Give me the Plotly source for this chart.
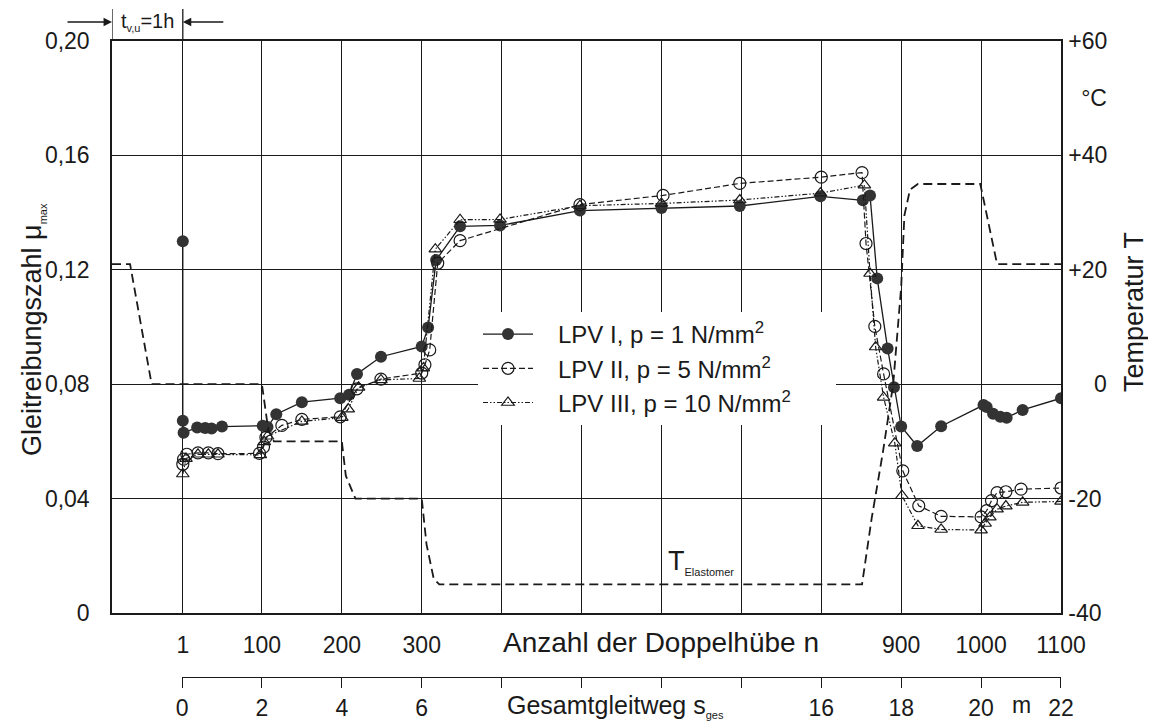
import plotly.graph_objects as go

# Anzahl der Doppelhuebe n (Vorlauf t_v,u = 1h liegt links von n = 1)
n_lpv1 = [1, 1, 2, 19, 29, 37, 50, 101, 107, 118, 150, 198, 209, 219, 249, 300, 308, 318, 348, 398,
          498, 600, 698, 799, 852, 861, 870, 883, 891, 900, 920, 950, 1003, 1007, 1015, 1024, 1032, 1052, 1100]
mu_lpv1 = [0.130, 0.0672, 0.063, 0.0649, 0.0647, 0.0645, 0.0652, 0.0655, 0.065, 0.0695, 0.0737, 0.0751,
           0.0763, 0.0836, 0.0896, 0.0932, 0.0998, 0.1234, 0.1352, 0.1355, 0.1407, 0.1416, 0.1423, 0.1457,
           0.1443, 0.146, 0.117, 0.0925, 0.0789, 0.0652, 0.0584, 0.0653, 0.0727, 0.072, 0.0697, 0.0686,
           0.0683, 0.071, 0.0751]

n_lpv2 = [1, 2, 6, 20, 33, 45, 97, 102, 105, 125, 150, 198, 219, 249, 300, 304, 310, 320, 348, 498,
          602, 698, 800, 851, 856, 867, 878, 902, 922, 950, 1000, 1007, 1013, 1020, 1031, 1050, 1100]
mu_lpv2 = [0.052, 0.0538, 0.0555, 0.056, 0.056, 0.0557, 0.0558, 0.058, 0.0614, 0.0656, 0.0677, 0.0686,
           0.0784, 0.0818, 0.0839, 0.0868, 0.092, 0.1223, 0.1302, 0.1428, 0.146, 0.1502, 0.1524, 0.154,
           0.1292, 0.1002, 0.0836, 0.0497, 0.0375, 0.0338, 0.0336, 0.0358, 0.0393, 0.0421, 0.0424,
           0.0433, 0.0437]

n_lpv3 = [1, 5, 20, 33, 45, 98, 103, 107, 150, 200, 208, 221, 249, 297, 302, 317, 348, 398, 498, 600,
          698, 799, 854, 861, 868, 878, 892, 901, 921, 950, 1000, 1005, 1011, 1020, 1031, 1052, 1100]
mu_lpv3 = [0.0486, 0.054, 0.0555, 0.0555, 0.0555, 0.0553, 0.0598, 0.0618, 0.067, 0.0683, 0.0713, 0.0789,
           0.0815, 0.082, 0.0856, 0.1272, 0.1375, 0.1376, 0.1424, 0.1432, 0.1444, 0.1468, 0.1496, 0.1187,
           0.093, 0.0754, 0.0594, 0.041, 0.0305, 0.0292, 0.029, 0.0313, 0.0335, 0.0363, 0.0374, 0.0387,
           0.039]

# Elastomertemperatur in Grad C
n_temp = [-87.6, -65, -38, 100, 108, 115, 200, 205, 217, 300, 306, 315, 322, 330, 851, 863, 877,
          890, 900, 904, 911, 921, 999, 1014, 1020, 1100]
t_temp = [21, 21, 0, 0, -8, -10, -10, -16, -20, -20, -28, -34, -35, -35, -35, -23.5, -12, 0, 17,
          29.5, 34, 35, 35, 25, 21, 21]

n_ticks = [1, 100, 200, 300, 900, 1000, 1100]
n_labels = ['1', '100', '200', '300', '900', '1000', '1100']
s_ticks = [0, 2, 4, 6, 16, 18, 20, 22]
s_labels = ['0', '2', '4', '6', '16', '18', '20', '22']
mu_ticks = [0, 0.04, 0.08, 0.12, 0.16, 0.20]
mu_labels = ['0', '0,04', '0,08', '0,12', '0,16', '0,20']
t_ticks = [-40, -20, 0, 20, 40, 50, 60]
t_labels = ['-40', '-20', '\u2007\u20070', '+20', '+40', '\u2007°C', '+60']

INK = '#1a1a1a'
FONT = 'Liberation Sans, Arial, sans-serif'
NB = '\u00a0'

# die Seite hat 8px Rand: Figur 1140x717, Papier im Bild von 41 bis 705
def py(px):
    return (705 - px) / 664

def pxx(px):
    return (px - 112) / 949

fig = go.Figure()

fig.add_trace(go.Scatter(x=n_temp, y=t_temp, yaxis='y2', mode='lines',
                         line=dict(color=INK, width=1.8, dash='9px,5px'),
                         showlegend=False, hoverinfo='skip'))

fig.add_trace(go.Scatter(x=n_lpv1, y=mu_lpv1, mode='lines+markers',
                         name=NB * 3 + 'LPV I, p = 1 N/mm<sup>2</sup>',
                         line=dict(color=INK, width=1.3),
                         marker=dict(symbol='circle', size=12, color='#333333')))
fig.add_trace(go.Scatter(x=n_lpv2, y=mu_lpv2, mode='lines+markers',
                         name=NB * 3 + 'LPV II, p = 5 N/mm<sup>2</sup>',
                         line=dict(color=INK, width=1.2, dash='6px,3px'),
                         marker=dict(symbol='circle-open', size=12, color=INK, line=dict(width=1.2))))
fig.add_trace(go.Scatter(x=n_lpv3, y=mu_lpv3, mode='lines+markers',
                         name=NB * 3 + 'LPV III, p = 10 N/mm<sup>2</sup>' + NB * 6,
                         line=dict(color=INK, width=1.2, dash='5px,2px,1.5px,2px,1.5px,2px'),
                         marker=dict(symbol='triangle-up-open', size=11, color=INK, line=dict(width=1.2))))

# Traeger fuer die zweite Abszisse (Gesamtgleitweg)
fig.add_trace(go.Scatter(x=[0, 22], y=[None, None], xaxis='x2', yaxis='y', mode='lines',
                         showlegend=False, hoverinfo='skip'))

fig.update_layout(
    width=1140, height=717,
    margin=dict(l=104, r=87, t=33, b=20),
    paper_bgcolor='white', plot_bgcolor='rgba(0,0,0,0)',
    font=dict(family=FONT, size=23, color=INK),
    xaxis=dict(range=[-87.6, 1100], domain=[0, 1], anchor='y', automargin=False,
               tickvals=n_ticks, ticktext=n_labels, ticks='', ticklabelstandoff=11,
               showgrid=True, gridcolor=INK, gridwidth=1.2, zeroline=False,
               minor=dict(tick0=0, dtick=100, showgrid=True, gridcolor=INK, gridwidth=1.2),
               showline=True, linecolor=INK, linewidth=1.5, mirror=True),
    xaxis2=dict(range=[0, 22], domain=[0.0738, 1], anchor='free', position=py(677), side='bottom',
                automargin=False,
                tickvals=s_ticks, ticktext=s_labels, ticks='outside', ticklen=10, tickwidth=1.3,
                tickcolor=INK, ticklabelstandoff=0, showgrid=False, zeroline=False,
                minor=dict(tick0=0, dtick=2, ticks='outside', ticklen=10, tickwidth=1.3,
                           tickcolor=INK, showgrid=False),
                showline=True, linecolor=INK, linewidth=1.3),
    yaxis=dict(range=[0, 0.2], domain=[py(613), 1], anchor='x', automargin=False,
               tickvals=mu_ticks, ticktext=mu_labels, ticks='', ticklabelstandoff=16,
               showgrid=True, gridcolor=INK, gridwidth=1.2, zeroline=False,
               showline=True, linecolor=INK, linewidth=1.5),
    yaxis2=dict(range=[-40, 60], overlaying='y', side='right', anchor='x', automargin=False,
                tickvals=t_ticks, ticktext=t_labels, ticks='', ticklabelstandoff=1,
                showgrid=False, zeroline=False, showline=True, linecolor=INK, linewidth=1.5),
    legend=dict(x=pxx(478), y=py(312), xanchor='left', yanchor='top', bgcolor='white',
                borderwidth=0, font=dict(size=24), itemwidth=50, tracegroupgap=0),
    showlegend=True,
)

small = '<span style="font-size:11px">%s</span>'
annotations = [
    dict(text='Gleitreibungszahl μ<sub>' + small % 'max' + '</sub>', textangle=-90,
         x=pxx(33), xref='paper', y=py(330), yref='paper', xanchor='center', yanchor='middle',
         showarrow=False, font=dict(size=27)),
    dict(text='Temperatur T', textangle=-90, x=pxx(1134), xref='paper', y=py(312), yref='paper',
         xanchor='center', yanchor='middle', showarrow=False, font=dict(size=27)),
    dict(text='Anzahl der Doppelhübe n', x=600, xref='x', y=py(642), yref='paper',
         yanchor='middle', showarrow=False, font=dict(size=28)),
    dict(text='Gesamtgleitweg s<sub>' + small % 'ges' + '</sub>', x=404, xref='x', xanchor='left',
         y=py(706), yref='paper', yanchor='middle', showarrow=False, font=dict(size=25)),
    dict(text='m', x=1050, xref='x', y=py(705), yref='paper', yanchor='middle', showarrow=False,
         font=dict(size=23)),
    dict(text='T<sub>' + small % 'Elastomer' + '</sub>', x=606, xref='x',
         xanchor='left', y=-31, yref='y2', yanchor='middle', showarrow=False, font=dict(size=27)),
    dict(text='t<sub>' + small % 'v,u' + '</sub>=1h', x=-43, xref='x', y=py(22), yref='paper',
         yanchor='middle', showarrow=False, font=dict(size=20)),
    dict(text='', x=-87.6, xref='x', y=py(22), yref='paper', showarrow=True, ax=-46, ay=0,
         arrowhead=2, arrowsize=1.3, arrowwidth=1.3, arrowcolor=INK),
    dict(text='', x=1, xref='x', y=py(22), yref='paper', showarrow=True, ax=42, ay=0,
         arrowhead=2, arrowsize=1.3, arrowwidth=1.3, arrowcolor=INK),
]
fig.update_layout(annotations=annotations)

for xv in [-87.6, 1]:
    fig.add_shape(type='line', x0=xv, x1=xv, xref='x', y0=1, y1=py(9), yref='paper',
                  line=dict(color=INK, width=1.3))

fig.write_html('out.html')
